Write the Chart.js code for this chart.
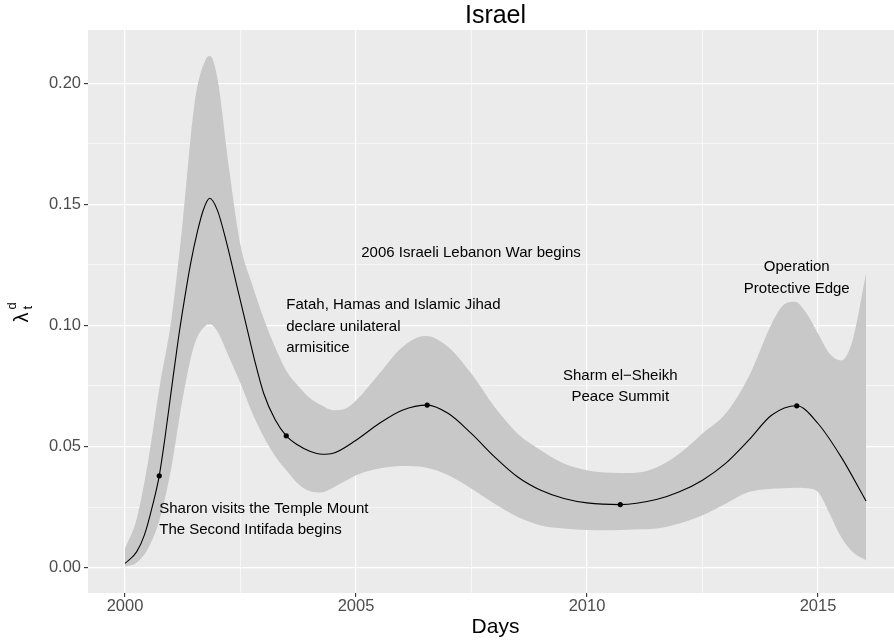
<!DOCTYPE html>
<html>
<head>
<meta charset="utf-8">
<script src="https://cdn.jsdelivr.net/npm/chart.js@4.4.1/dist/chart.umd.min.js"></script>
<style>
  body { margin: 0; overflow: hidden; background: #ffffff; }
  #wrap { width: 907px; height: 641px; }
</style>
</head>
<body>
<div id="wrap"><canvas id="israel"></canvas></div>
<script>
// credible band (upper / lower), shared x positions
const bandYears = [2000, 2000.25, 2000.5, 2000.75, 2001, 2001.25, 2001.5, 2001.75, 2001.84,
  2002, 2002.25, 2002.5, 2002.75, 2003, 2003.25, 2003.5, 2003.75, 2004, 2004.25, 2004.5, 2004.75,
  2005, 2005.5, 2006, 2006.5, 2007, 2007.5, 2008, 2008.5, 2009, 2009.5, 2010, 2010.5, 2011, 2011.5,
  2012, 2012.5, 2013, 2013.5, 2014, 2014.25, 2014.5, 2014.75, 2015, 2015.25, 2015.5, 2015.75, 2016.04];
const upperValues = [0.0079, 0.020, 0.044, 0.075, 0.102, 0.143, 0.191, 0.210, 0.2113,
  0.202, 0.165, 0.133, 0.117, 0.103, 0.091, 0.081, 0.075, 0.070, 0.067, 0.065, 0.0655,
  0.069, 0.080, 0.091, 0.0956, 0.091, 0.080, 0.0663, 0.0553, 0.0485, 0.043, 0.0402, 0.0392, 0.0391, 0.0413,
  0.0471, 0.0554, 0.0636, 0.0788, 0.1008, 0.1084, 0.1098, 0.105, 0.0967, 0.0884, 0.0855, 0.0939, 0.1215];
const lowerValues = [0.0005, 0.002, 0.008, 0.020, 0.041, 0.070, 0.092, 0.1000, 0.1005,
  0.0975, 0.087, 0.076, 0.064, 0.054, 0.046, 0.040, 0.0345, 0.0315, 0.031, 0.033, 0.0355,
  0.0381, 0.0409, 0.0419, 0.0413, 0.0381, 0.0326, 0.0264, 0.0209, 0.0174, 0.0161, 0.0155, 0.0154, 0.0157, 0.0161,
  0.0182, 0.0216, 0.0264, 0.0312, 0.0326, 0.0328, 0.033, 0.0328, 0.0312, 0.0223, 0.0126, 0.0064, 0.003];

// posterior mean
const meanYears = [2000, 2000.25, 2000.42, 2000.6, 2000.74, 2000.86, 2001, 2001.15, 2001.28, 2001.42,
  2001.57, 2001.7, 2001.83, 2002, 2002.2, 2002.4, 2002.6, 2002.8, 2003, 2003.25,
  2003.49, 2003.75, 2004, 2004.27, 2004.5, 2005, 2005.5, 2006, 2006.54, 2007, 2007.5, 2008, 2008.5,
  2009, 2009.5, 2010, 2010.72, 2011.5, 2012, 2012.5, 2013, 2013.5, 2014, 2014.54, 2015, 2015.5, 2016.04];
const meanValues = [0.0017, 0.0065, 0.0135, 0.026, 0.0379, 0.053, 0.073, 0.094, 0.110, 0.1256,
  0.139, 0.148, 0.1525, 0.1475, 0.134, 0.118, 0.102, 0.086, 0.072, 0.061,
  0.0544, 0.0505, 0.048, 0.0468, 0.0472, 0.0526, 0.0595, 0.065, 0.0671, 0.0636, 0.0553, 0.0457, 0.0374,
  0.0319, 0.0285, 0.0267, 0.026, 0.0281, 0.0313, 0.0361, 0.043, 0.0526, 0.063, 0.0668, 0.0595, 0.0457, 0.0275];

// events
const eventYears = [2000.74, 2003.49, 2006.54, 2010.72, 2014.54];
const eventValues = [0.0379, 0.0544, 0.0671, 0.026, 0.0668];

const noteYears = [2000.74, 2003.49, 2007.49, 2010.72, 2014.54];
const noteValues = [0.0244, 0.1084, 0.1298, 0.0792, 0.124];
const noteLines = [
  ['Sharon visits the Temple Mount', 'The Second Intifada begins'],
  ['Fatah, Hamas and Islamic Jihad', 'declare unilateral', 'armisitice'],
  ['2006 Israeli Lebanon War begins'],
  ['Sharm el\u2212Sheikh', 'Peace Summit'],
  ['Operation', 'Protective Edge']
];
const noteAlign = ['left', 'left', 'center', 'center', 'center'];

const xTicks = [2000, 2002.5, 2005, 2007.5, 2010, 2012.5, 2015];
const yTicks = [0, 0.025, 0.05, 0.075, 0.1, 0.125, 0.15, 0.175, 0.2];

const FONT = '"Liberation Sans", Arial, Helvetica, sans-serif';
const toXY = (xs, ys) => xs.map((x, i) => ({ x: x, y: ys[i] }));
const isMajorX = v => v % 5 === 0;
const isMajorY = v => Math.round(v * 1000) % 50 === 0;

const decor = {
  id: 'decor',
  beforeDraw(chart) {
    const { ctx, chartArea: a } = chart;
    ctx.save();
    ctx.fillStyle = '#EBEBEB';
    ctx.fillRect(a.left, a.top, a.right - a.left, a.bottom - a.top);
    ctx.restore();
  },
  afterDatasetsDraw(chart) {
    const { ctx } = chart;
    const xs = chart.scales.x, ys = chart.scales.y;
    ctx.save();
    ctx.font = '15px ' + FONT;
    ctx.fillStyle = '#000000';
    ctx.textBaseline = 'middle';
    noteLines.forEach((lines, i) => {
      const px = xs.getPixelForValue(noteYears[i]);
      const py = ys.getPixelForValue(noteValues[i]);
      ctx.textAlign = noteAlign[i];
      lines.forEach((t, j) => ctx.fillText(t, px, py + j * 21.5));
    });
    ctx.restore();
  },
  afterDraw(chart) {
    const { ctx, chartArea: a } = chart;
    const cx = (a.left + a.right) / 2;
    ctx.save();
    ctx.fillStyle = '#000000';
    ctx.textAlign = 'center';
    ctx.textBaseline = 'alphabetic';
    ctx.font = '25px ' + FONT;
    ctx.fillText('Israel', cx, 23.3);
    ctx.font = '21px ' + FONT;
    ctx.fillText('Days', cx, 632.7);
    // y title: lambda with sub t and sup d, rotated
    ctx.translate(22, (a.top + a.bottom) / 2);
    ctx.rotate(-Math.PI / 2);
    ctx.textAlign = 'left';
    ctx.font = '20px ' + FONT;
    ctx.fillText('\u03bb', -11, 6);
    ctx.font = '13px ' + FONT;
    ctx.fillText('d', 2, -6);
    ctx.fillText('t', 2, 9.5);
    ctx.restore();
  }
};

new Chart(document.getElementById('israel'), {
  type: 'line',
  data: {
    datasets: [
      {
        label: 'Events',
        data: toXY(eventYears, eventValues),
        showLine: false,
        pointRadius: 2.6,
        pointBackgroundColor: '#000000',
        pointBorderWidth: 0
      },
      {
        label: 'Mean',
        data: toXY(meanYears, meanValues),
        borderColor: '#000000',
        borderWidth: 1.1,
        pointRadius: 0,
        cubicInterpolationMode: 'monotone',
        fill: false
      },
      {
        label: 'Upper',
        data: toXY(bandYears, upperValues),
        borderWidth: 0,
        borderColor: 'rgba(0,0,0,0)',
        backgroundColor: '#C8C8C8',
        pointRadius: 0,
        cubicInterpolationMode: 'monotone',
        fill: '+1'
      },
      {
        label: 'Lower',
        data: toXY(bandYears, lowerValues),
        borderWidth: 0,
        borderColor: 'rgba(0,0,0,0)',
        pointRadius: 0,
        cubicInterpolationMode: 'monotone',
        fill: false
      }
    ]
  },
  options: {
    responsive: true,
    maintainAspectRatio: false,
    devicePixelRatio: 1,
    animation: false,
    layout: { padding: { top: 30, left: 0, right: 0, bottom: 0 } },
    plugins: { legend: { display: false }, tooltip: { enabled: false }, title: { display: false } },
    scales: {
      x: {
        type: 'linear',
        min: 1999.198,
        max: 2016.84,
        afterBuildTicks: s => { s.ticks = xTicks.map(v => ({ value: v })); },
        afterFit: s => { s.height = 48; },
        border: { display: false },
        grid: {
          color: '#FFFFFF',
          lineWidth: c => (c.tick && isMajorX(c.tick.value) ? 1.2 : 0.6),
          tickColor: c => (c.tick && isMajorX(c.tick.value) ? '#333333' : 'rgba(0,0,0,0)'),
          tickLength: 4,
          tickWidth: 1.1
        },
        ticks: {
          autoSkip: false,
          maxRotation: 0,
          padding: 0,
          color: '#4D4D4D',
          font: { family: FONT, size: 16.5 },
          callback: v => (isMajorX(v) ? String(v) : '')
        }
      },
      y: {
        type: 'linear',
        min: -0.0105,
        max: 0.222,
        afterBuildTicks: s => { s.ticks = yTicks.map(v => ({ value: v })); },
        afterFit: s => { s.width = 88; },
        border: { display: false },
        grid: {
          color: '#FFFFFF',
          lineWidth: c => (c.tick && isMajorY(c.tick.value) ? 1.2 : 0.6),
          tickColor: c => (c.tick && isMajorY(c.tick.value) ? '#333333' : 'rgba(0,0,0,0)'),
          tickLength: 4,
          tickWidth: 1.1
        },
        ticks: {
          autoSkip: false,
          padding: 3,
          color: '#4D4D4D',
          font: { family: FONT, size: 16.5 },
          callback: v => (isMajorY(v) ? v.toFixed(2) : '')
        }
      }
    }
  },
  plugins: [decor]
});
</script>
</body>
</html>
